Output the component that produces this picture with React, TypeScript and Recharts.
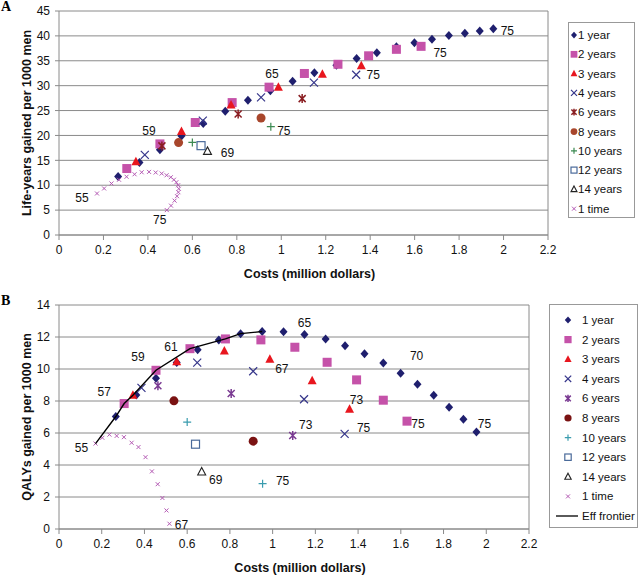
import React from "react";
import { ScatterChart, Scatter, XAxis, YAxis, CartesianGrid, Label, ReferenceLine } from "recharts";

const FONT = "'Liberation Sans', Arial, sans-serif";

// axis ticks
const costTicks = [0, 0.2, 0.4, 0.6, 0.8, 1, 1.2, 1.4, 1.6, 1.8, 2, 2.2];
const lifeTicks = [0, 5, 10, 15, 20, 25, 30, 35, 40, 45];
const qalyTicks = [0, 2, 4, 6, 8, 10, 12, 14];

// costs (million dollars) per strategy
const oneYearCost = [0.266, 0.362, 0.454, 0.551, 0.649, 0.748, 0.85, 0.951, 1.051, 1.149, 1.248, 1.339, 1.43, 1.518, 1.599, 1.678, 1.754, 1.826, 1.893, 1.954];
const twoYearCost = [0.305, 0.454, 0.613, 0.779, 0.945, 1.104, 1.255, 1.393, 1.518, 1.629];
const threeYearCost = [0.346, 0.551, 0.774, 0.987, 1.185, 1.36];
const fourYearCost = [0.386, 0.647, 0.909, 1.147, 1.337];
const sixYearCost = [0.463, 0.806, 1.094];
const eightYearCost = [0.538, 0.909];
const tenYearCost = [0.6, 0.953];
const twelveYearCost = [0.639];
const fourteenYearCost = [0.668];
const oneTimeCost = [0.171, 0.203, 0.236, 0.27, 0.304, 0.34, 0.372, 0.405, 0.435, 0.462, 0.484, 0.503, 0.517, 0.528, 0.536, 0.539, 0.537, 0.531, 0.52, 0.504, 0.485];

// panel A: life-years gained per 1000 men
const oneYearLife = [11.75, 14.55, 17.15, 19.9, 22.4, 24.85, 27.05, 29.0, 30.9, 32.6, 34.1, 35.45, 36.6, 37.8, 38.6, 39.3, 40.1, 40.55, 41.0, 41.45];
const twoYearLife = [13.35, 18.3, 22.6, 26.6, 29.7, 32.45, 34.3, 36.0, 37.3, 37.9];
const threeYearLife = [14.7, 20.8, 26.1, 29.7, 32.3, 34.0];
const fourYearLife = [16.1, 22.97, 27.65, 30.6, 32.2];
const sixYearLife = [17.9, 24.3, 27.4];
const eightYearLife = [18.56, 23.5];
const tenYearLife = [18.6, 21.77];
const twelveYearLife = [17.95];
const fourteenYearLife = [16.8];
const oneTimeLife = [8.34, 9.35, 10.35, 11.1, 11.7, 12.2, 12.6, 12.68, 12.55, 12.35, 12.0, 11.6, 11.1, 10.6, 10.0, 9.3, 8.6, 7.8, 6.9, 5.9, 5.0];

// panel B: QALYs gained per 1000 men
const oneYearQaly = [7.03, 8.38, 9.42, 10.4, 11.21, 11.82, 12.21, 12.34, 12.33, 12.16, 11.87, 11.46, 10.96, 10.38, 9.74, 9.05, 8.36, 7.61, 6.86, 6.07];
const twoYearQaly = [7.84, 9.92, 11.27, 11.88, 11.82, 11.36, 10.42, 9.32, 8.05, 6.74];
const threeYearQaly = [8.36, 10.46, 11.13, 10.61, 9.26, 7.49];
const fourYearQaly = [8.82, 10.4, 9.86, 8.11, 5.95];
const sixYearQaly = [8.95, 8.47, 5.84];
const eightYearQaly = [8.01, 5.49];
const tenYearQaly = [6.68, 2.83];
const twelveYearQaly = [5.3];
const fourteenYearQaly = [3.56];
const oneTimeQaly = [5.34, 5.7, 5.9, 5.82, 5.74, 5.39, 5.12, 4.49, 3.6, 2.8, 1.94, 1.16, 0.33];

const frontierCost = [0.171, 0.266, 0.305, 0.346, 0.454, 0.613, 0.779, 0.85, 0.951];
const frontierQaly = [5.34, 7.03, 7.84, 8.36, 9.92, 11.27, 11.88, 12.21, 12.34];

// age annotations: series, point index, text, pixel offset
const lifeNotes = [
  { s: "1 year", i: 19, t: "75", dx: 14, dy: 2 },
  { s: "2 years", i: 9, t: "75", dx: 19, dy: 7 },
  { s: "4 years", i: 4, t: "75", dx: 17, dy: 0 },
  { s: "2 years", i: 4, t: "65", dx: 3, dy: -13 },
  { s: "2 years", i: 1, t: "59", dx: -11, dy: -13 },
  { s: "14 years", i: 0, t: "69", dx: 20, dy: 2 },
  { s: "10 years", i: 1, t: "75", dx: 13, dy: 4 },
  { s: "1 time", i: 0, t: "55", dx: -15, dy: 5 },
  { s: "1 time", i: 20, t: "75", dx: -7, dy: 10 },
];
const qalyNotes = [
  { s: "1 time", i: 0, t: "55", dx: -14, dy: 4 },
  { s: "2 years", i: 0, t: "57", dx: -20, dy: -12 },
  { s: "2 years", i: 1, t: "59", dx: -18, dy: -13 },
  { s: "2 years", i: 2, t: "61", dx: -19, dy: -2 },
  { s: "1 year", i: 9, t: "65", dx: 0, dy: -11 },
  { s: "3 years", i: 3, t: "67", dx: 12, dy: 10 },
  { s: "3 years", i: 5, t: "73", dx: 7, dy: -9 },
  { s: "6 years", i: 2, t: "73", dx: 13, dy: -11 },
  { s: "4 years", i: 4, t: "75", dx: 19, dy: -6 },
  { s: "10 years", i: 1, t: "75", dx: 20, dy: -3 },
  { s: "14 years", i: 0, t: "69", dx: 14, dy: 8 },
  { s: "1 time", i: 12, t: "67", dx: 12, dy: 1 },
  { s: "1 year", i: 14, t: "70", dx: 16, dy: -17 },
  { s: "2 years", i: 9, t: "75", dx: 11, dy: 3 },
  { s: "1 year", i: 19, t: "75", dx: 8, dy: -8 },
];

type Note = { s: string; i: number; t: string; dx: number; dy: number };
type Series = { name: string; kind: string; color: string; xs: number[]; ys: number[] };

const seriesA: Series[] = [
  { name: "1 year", kind: "diamond", color: "#1F1F6E", xs: oneYearCost, ys: oneYearLife },
  { name: "2 years", kind: "square", color: "#C552A9", xs: twoYearCost, ys: twoYearLife },
  { name: "3 years", kind: "triangle", color: "#E8161E", xs: threeYearCost, ys: threeYearLife },
  { name: "4 years", kind: "x", color: "#35358A", xs: fourYearCost, ys: fourYearLife },
  { name: "6 years", kind: "star", color: "#8A1E22", xs: sixYearCost, ys: sixYearLife },
  { name: "8 years", kind: "circle", color: "#A8462C", xs: eightYearCost, ys: eightYearLife },
  { name: "10 years", kind: "plus", color: "#3C8A52", xs: tenYearCost, ys: tenYearLife },
  { name: "12 years", kind: "osquare", color: "#4A6A9A", xs: twelveYearCost, ys: twelveYearLife },
  { name: "14 years", kind: "otriangle", color: "#222222", xs: fourteenYearCost, ys: fourteenYearLife },
  { name: "1 time", kind: "smallx", color: "#B45AB4", xs: oneTimeCost, ys: oneTimeLife },
];

const seriesB: Series[] = [
  { name: "1 year", kind: "diamond", color: "#1F1F6E", xs: oneYearCost, ys: oneYearQaly },
  { name: "2 years", kind: "square", color: "#C552A9", xs: twoYearCost, ys: twoYearQaly },
  { name: "3 years", kind: "triangle", color: "#E8161E", xs: threeYearCost, ys: threeYearQaly },
  { name: "4 years", kind: "x", color: "#35358A", xs: fourYearCost, ys: fourYearQaly },
  { name: "6 years", kind: "star", color: "#7A3A92", xs: sixYearCost, ys: sixYearQaly },
  { name: "8 years", kind: "circle", color: "#7A1212", xs: eightYearCost, ys: eightYearQaly },
  { name: "10 years", kind: "plus", color: "#3A9CAE", xs: tenYearCost, ys: tenYearQaly },
  { name: "12 years", kind: "osquare", color: "#4A6A9A", xs: twelveYearCost, ys: twelveYearQaly },
  { name: "14 years", kind: "otriangle", color: "#222222", xs: fourteenYearCost, ys: fourteenYearQaly },
  { name: "1 time", kind: "smallx", color: "#B45AB4", xs: oneTimeCost.slice(0, oneTimeQaly.length), ys: oneTimeQaly },
];

function marker(kind: string, color: string, cx: number, cy: number, k = 1) {
  switch (kind) {
    case "diamond":
      return <path d={`M${cx},${cy - 4.5 * k}L${cx + 4 * k},${cy}L${cx},${cy + 4.5 * k}L${cx - 4 * k},${cy}Z`} fill={color} />;
    case "square":
      return <rect x={cx - 4.5 * k} y={cy - 4.5 * k} width={9 * k} height={9 * k} fill={color} />;
    case "triangle":
      return <path d={`M${cx},${cy - 5 * k}L${cx + 4.5 * k},${cy + 3.5 * k}L${cx - 4.5 * k},${cy + 3.5 * k}Z`} fill={color} />;
    case "x":
      return <path d={`M${cx - 4 * k},${cy - 4 * k}L${cx + 4 * k},${cy + 4 * k}M${cx - 4 * k},${cy + 4 * k}L${cx + 4 * k},${cy - 4 * k}`} stroke={color} strokeWidth={1.2} />;
    case "star":
      return <path d={`M${cx - 3.5 * k},${cy - 3.5 * k}L${cx + 3.5 * k},${cy + 3.5 * k}M${cx - 3.5 * k},${cy + 3.5 * k}L${cx + 3.5 * k},${cy - 3.5 * k}M${cx},${cy - 4.5 * k}L${cx},${cy + 4.5 * k}`} stroke={color} strokeWidth={1.5} />;
    case "circle":
      return <circle cx={cx} cy={cy} r={4.5 * k} fill={color} />;
    case "plus":
      return <path d={`M${cx - 4 * k},${cy}L${cx + 4 * k},${cy}M${cx},${cy - 4 * k}L${cx},${cy + 4 * k}`} stroke={color} strokeWidth={1.2} />;
    case "osquare":
      return <rect x={cx - 4 * k} y={cy - 4 * k} width={8 * k} height={8 * k} fill="#fff" stroke={color} strokeWidth={1.2} />;
    case "otriangle":
      return <path d={`M${cx},${cy - 4.5 * k}L${cx + 4 * k},${cy + 3 * k}L${cx - 4 * k},${cy + 3 * k}Z`} fill="none" stroke={color} strokeWidth={1.1} />;
    case "smallx":
      return <path d={`M${cx - 2},${cy - 2}L${cx + 2},${cy + 2}M${cx - 2},${cy + 2}L${cx + 2},${cy - 2}`} stroke={color} strokeWidth={1} />;
    case "line":
      return <line x1={cx - 12} x2={cx + 10} y1={cy} y2={cy} stroke="#000" strokeWidth={1.3} />;
    default:
      return null;
  }
}

const makeShape = (kind: string, color: string) => (props: any) => {
  const { cx, cy, payload } = props;
  if (cx == null || cy == null) return <g />;
  return (
    <g>
      {marker(kind, color, cx, cy)}
      {payload && payload.tag ? (
        <text x={cx + payload.dx} y={cy + payload.dy} textAnchor="middle" dominantBaseline="central" fontSize={12} fontFamily={FONT} fill="#111">
          {payload.tag}
        </text>
      ) : null}
    </g>
  );
};

function build(s: Series, notes: Note[]) {
  return s.ys.map((y, i) => {
    const n = notes.find((k) => k.s === s.name && k.i === i);
    return n ? { x: s.xs[i], y, tag: n.t, dx: n.dx, dy: n.dy } : { x: s.xs[i], y };
  });
}

type LegendProps = { items: { name: string; kind: string; color: string }[]; left: number; top: number; width: number; height: number; first: number; step: number; mx: number; tx: number; k: number };

function LegendBox({ items, left, top, width, height, first, step, mx, tx, k }: LegendProps) {
  return (
    <svg style={{ position: "absolute", left, top }} width={width} height={height}>
      <rect x={0.5} y={0.5} width={width - 1} height={height - 1} fill="#fff" stroke="#999" />
      {items.map((it, i) => (
        <g key={it.name}>
          {marker(it.kind, it.color, mx, first + i * step, k)}
          <text x={tx} y={first + i * step} dominantBaseline="central" fontSize={11.5} fontFamily={FONT} fill="#111">
            {it.name}
          </text>
        </g>
      ))}
    </svg>
  );
}

type PanelProps = {
  series: Series[];
  notes: Note[];
  yTicks: number[];
  yMax: number;
  yTitle: string;
  width: number;
  height: number;
  right: number;
  top: number;
  xAxisH: number;
  frontier?: { x: number; y: number }[];
};

function Panel({ series, notes, yTicks, yMax, yTitle, width, height, right, top, xAxisH, frontier }: PanelProps) {
  const plotTop = top;
  const plotBottom = height - xAxisH;
  const plotLeft = 59;
  const plotRight = width - right;
  const tick = { fill: "#111", fontSize: 12, fontFamily: FONT };
  return (
    <ScatterChart width={width} height={height} margin={{ top, right, bottom: 0, left: 0 }}>
      <CartesianGrid vertical={false} stroke="#8a8a8a" />
      <XAxis
        type="number"
        dataKey="x"
        domain={[0, 2.2]}
        ticks={costTicks}
        height={xAxisH}
        tick={tick}
        tickSize={5}
        tickMargin={5}
        stroke="#8a8a8a"
        interval={0}
      >
        <Label
          content={() => (
            <text x={(plotLeft + plotRight) / 2 + 6} y={plotBottom + 39} textAnchor="middle" dominantBaseline="central" fontSize={12.5} fontWeight="bold" fontFamily={FONT} fill="#111">
              Costs (million dollars)
            </text>
          )}
        />
      </XAxis>
      <YAxis
        type="number"
        dataKey="y"
        domain={[0, yMax]}
        ticks={yTicks}
        width={59}
        tick={tick}
        tickSize={4}
        tickMargin={5}
        stroke="#8a8a8a"
        interval={0}
      >
        <Label
          content={() => {
            const cy = (plotTop + plotBottom) / 2;
            return (
              <text x={27} y={cy} transform={`rotate(-90, 27, ${cy})`} textAnchor="middle" dominantBaseline="central" fontSize={12.5} fontWeight="bold" fontFamily={FONT} fill="#111">
                {yTitle}
              </text>
            );
          }}
        />
      </YAxis>
      <ReferenceLine x={2.2} stroke="#8a8a8a" />
      {series.map((s) => (
        <Scatter key={s.name} name={s.name} data={build(s, notes)} shape={makeShape(s.kind, s.color)} isAnimationActive={false} />
      ))}
      {frontier ? (
        <Scatter name="Eff frontier" data={frontier} line={{ stroke: "#000", strokeWidth: 1.4 }} shape={() => <g />} isAnimationActive={false} />
      ) : null}
    </ScatterChart>
  );
}

export default function App() {
  const frontier = frontierQaly.map((y, i) => ({ x: frontierCost[i], y }));
  const legendA = seriesA.map((s) => ({ name: s.name, kind: s.kind, color: s.color }));
  const legendB = [...seriesB.map((s) => ({ name: s.name, kind: s.kind, color: s.color })), { name: "Eff frontier", kind: "line", color: "#000" }];
  const letter: React.CSSProperties = { position: "absolute", left: 1, fontFamily: "'Liberation Serif', 'DejaVu Serif', serif", fontWeight: "bold", fontSize: 14, lineHeight: "14px" };
  return (
    <div style={{ position: "absolute", left: 0, top: 0, width: 640, height: 575, background: "#fff" }}>
      <div style={{ position: "absolute", left: 0, top: 0 }}>
        <Panel series={seriesA} notes={lifeNotes} yTicks={lifeTicks} yMax={45} yTitle="Life-years gained per 1000 men" width={640} height={290} right={92} top={11} xAxisH={55} />
        <LegendBox items={legendA} left={568} top={22} width={67} height={196} first={13} step={19.3} mx={6} tx={10} k={0.75} />
      </div>
      <div style={{ position: "absolute", left: 0, top: 290 }}>
        <Panel series={seriesB} notes={qalyNotes} yTicks={qalyTicks} yMax={14} yTitle="QALYs gained per 1000 men" width={640} height={285} right={111} top={15} xAxisH={46} frontier={frontier} />
        <LegendBox items={legendB} left={549} top={14} width={89} height={224} first={16} step={19.6} mx={19} tx={33} k={0.8} />
      </div>
      <div style={{ ...letter, top: 0 }}>A</div>
      <div style={{ ...letter, top: 294 }}>B</div>
    </div>
  );
}
